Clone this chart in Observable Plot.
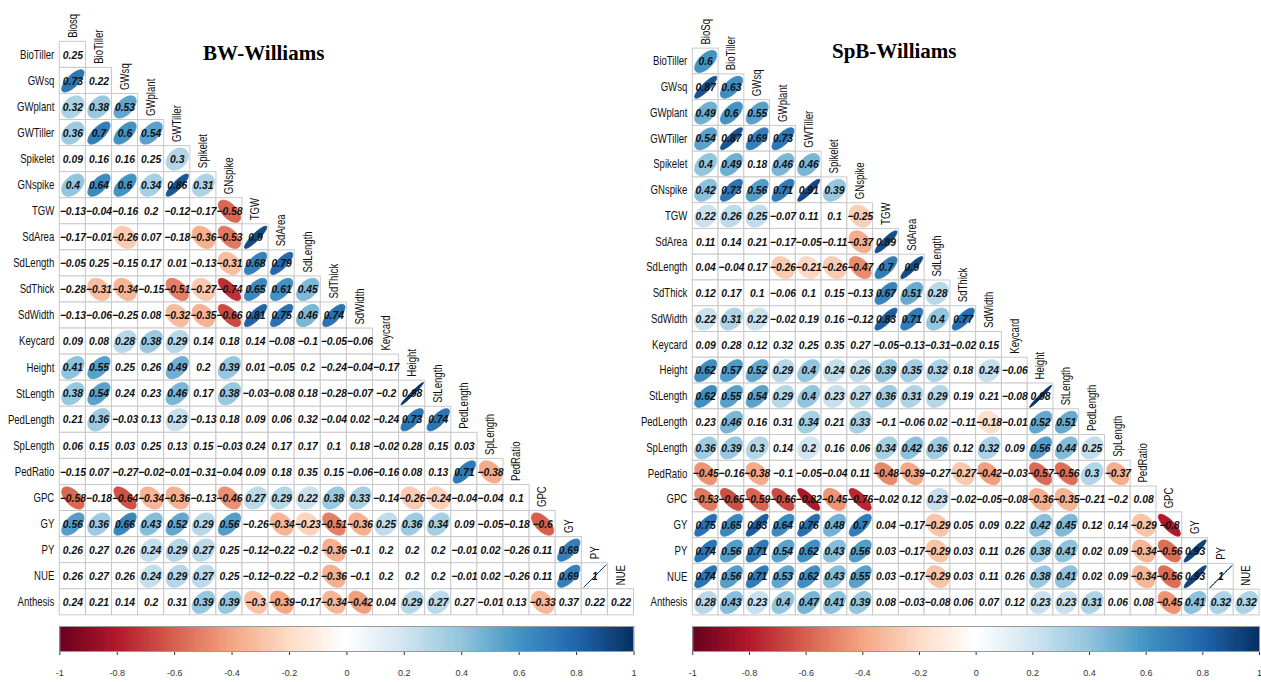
<!DOCTYPE html>
<html><head><meta charset="utf-8">
<script src="https://cdn.jsdelivr.net/npm/d3@7"></script>
<script src="https://cdn.jsdelivr.net/npm/@observablehq/plot@0.6"></script>
<style>
body{margin:0;background:#fff;}
#wrap{position:relative;width:1261px;height:682px;overflow:hidden;background:#fff;}
.title{position:absolute;z-index:3;font-family:"Liberation Serif","Times New Roman",serif;font-weight:bold;font-size:21px;line-height:1;color:#000;white-space:nowrap;}
#wrap svg{position:absolute;overflow:hidden;}
</style></head>
<body><div id="wrap">
<div class="title" style="left:203px;top:43px">BW-Williams</div>
<div class="title" style="left:832px;top:41px">SpB-Williams</div>
</div>
<script>
// ---------- data ----------
const bwVars = ["Biosq","BioTiller","GWsq","GWplant","GWTiller","Spikelet","GNspike","TGW","SdArea","SdLength","SdThick","SdWidth","Keycard","Height","StLength","PedLength","SpLength","PedRatio","GPC","GY","PY","NUE","Anthesis"];
const spbVars = ["BioSq","BioTiller","GWsq","GWplant","GWTiller","Spikelet","GNspike","TGW","SdArea","SdLength","SdThick","SdWidth","Keycard","Height","StLength","PedLength","SpLength","PedRatio","GPC","GY","PY","NUE","Anthesis"];

const bwValues = [
  [0.25],
  [0.73,0.22],
  [0.32,0.38,0.53],
  [0.36,0.7,0.6,0.54],
  [0.09,0.16,0.16,0.25,0.3],
  [0.4,0.64,0.6,0.34,0.86,0.31],
  [-0.13,-0.04,-0.16,0.2,-0.12,-0.17,-0.58],
  [-0.17,-0.01,-0.26,0.07,-0.18,-0.36,-0.53,0.9],
  [-0.05,0.25,-0.15,0.17,0.01,-0.13,-0.31,0.68,0.79],
  [-0.28,-0.31,-0.34,-0.15,-0.51,-0.27,-0.74,0.65,0.61,0.45],
  [-0.13,-0.06,-0.25,0.08,-0.32,-0.35,-0.66,0.81,0.75,0.46,0.74],
  [0.09,0.08,0.28,0.38,0.29,0.14,0.18,0.14,-0.08,-0.1,-0.05,-0.06],
  [0.41,0.55,0.25,0.26,0.49,0.2,0.39,0.01,-0.05,0.2,-0.24,-0.04,-0.17],
  [0.38,0.54,0.24,0.23,0.46,0.17,0.38,-0.03,-0.08,0.18,-0.28,-0.07,-0.2,0.98],
  [0.21,0.36,-0.03,0.13,0.23,-0.13,0.18,0.09,0.06,0.32,-0.04,0.02,-0.24,0.73,0.74],
  [0.06,0.15,0.03,0.25,0.13,0.15,-0.03,0.24,0.17,0.17,0.1,0.18,-0.02,0.28,0.15,0.03],
  [-0.15,0.07,-0.27,-0.02,-0.01,-0.31,-0.04,0.09,0.18,0.35,0.15,-0.06,-0.16,0.08,0.13,0.71,-0.38],
  [-0.58,-0.18,-0.64,-0.34,-0.36,-0.13,-0.46,0.27,0.29,0.22,0.38,0.33,-0.14,-0.26,-0.24,-0.04,-0.04,0.1],
  [0.56,0.36,0.66,0.43,0.52,0.29,0.56,-0.26,-0.34,-0.23,-0.51,-0.36,0.25,0.36,0.34,0.09,-0.05,-0.18,-0.6],
  [0.26,0.27,0.26,0.24,0.29,0.27,0.25,-0.12,-0.22,-0.2,-0.36,-0.1,0.2,0.2,0.2,-0.01,0.02,-0.26,0.11,0.69],
  [0.26,0.27,0.26,0.24,0.29,0.27,0.25,-0.12,-0.22,-0.2,-0.36,-0.1,0.2,0.2,0.2,-0.01,0.02,-0.26,0.11,0.69,1],
  [0.24,0.21,0.14,0.2,0.31,0.39,0.39,-0.3,-0.39,-0.17,-0.34,-0.42,0.04,0.29,0.27,0.27,-0.01,0.13,-0.33,0.37,0.22,0.22]
];
// "1" = significant (drawn with an ellipse)
const bwSig = [
  "0","10","111","1111","00001","111111","0000001","00100111","000000111","0110111111",
  "00001111111","001110000000","1100101000000","11001010000001","010010000000011",
  "0000000000000000","00000000000000011","101110111111011000","1111111011111110001",
  "00011100001000000001","000111000010000000011","0000011110110110001000"
];

const spbValues = [
  [0.6],
  [0.87,0.63],
  [0.49,0.6,0.55],
  [0.54,0.87,0.69,0.73],
  [0.4,0.49,0.18,0.46,0.46],
  [0.42,0.73,0.56,0.71,0.91,0.39],
  [0.22,0.26,0.25,-0.07,0.11,0.1,-0.25],
  [0.11,0.14,0.21,-0.17,-0.05,-0.11,-0.37,0.89],
  [0.04,-0.04,0.17,-0.26,-0.21,-0.26,-0.47,0.7,0.9],
  [0.12,0.17,0.1,-0.06,0.1,0.15,-0.13,0.67,0.51,0.28],
  [0.22,0.31,0.22,-0.02,0.19,0.16,-0.12,0.83,0.71,0.4,0.77],
  [0.09,0.28,0.12,0.32,0.25,0.35,0.27,-0.05,-0.13,-0.31,-0.02,0.15],
  [0.62,0.57,0.52,0.29,0.4,0.24,0.26,0.39,0.35,0.32,0.18,0.24,-0.06],
  [0.62,0.55,0.54,0.29,0.4,0.23,0.27,0.36,0.31,0.29,0.19,0.21,-0.08,0.98],
  [0.23,0.46,0.16,0.31,0.34,0.21,0.33,-0.1,-0.06,0.02,-0.11,-0.18,-0.01,0.52,0.51],
  [0.36,0.39,0.3,0.14,0.2,0.16,0.06,0.34,0.42,0.36,0.12,0.32,0.09,0.56,0.44,0.25],
  [-0.45,-0.16,-0.38,-0.1,-0.05,-0.04,0.11,-0.48,-0.39,-0.27,-0.27,-0.42,-0.03,-0.57,-0.56,0.3,-0.37],
  [-0.53,-0.65,-0.59,-0.66,-0.82,-0.45,-0.76,-0.02,0.12,0.23,-0.02,-0.05,-0.08,-0.36,-0.35,-0.21,-0.2,0.08],
  [0.75,0.65,0.83,0.64,0.76,0.48,0.7,0.04,-0.17,-0.29,0.05,0.09,0.22,0.42,0.45,0.12,0.14,-0.29,-0.8],
  [0.74,0.56,0.71,0.54,0.62,0.43,0.56,0.03,-0.17,-0.29,0.03,0.11,0.26,0.38,0.41,0.02,0.09,-0.34,-0.56,0.93],
  [0.74,0.56,0.71,0.53,0.62,0.43,0.55,0.03,-0.17,-0.29,0.03,0.11,0.26,0.38,0.41,0.02,0.09,-0.34,-0.56,0.93,1],
  [0.28,0.43,0.23,0.4,0.47,0.41,0.39,0.08,-0.03,-0.08,0.06,0.07,0.12,0.23,0.23,0.31,0.06,0.08,-0.45,0.41,0.32,0.32]
];
const spbSig = [
  "1","11","111","1111","11011","111111","1110001","00000011","000111111","0000000111",
  "11100001111","000000000000","1111111111010","11111111110001","010010100001011",
  "1110100111010111","10100001101101111","111111100100011000","1111111001000110011",
  "11111110010001100111","111111100100011001111","1111111000000111001111"
];

const corrStops = [-1,-0.8,-0.6,-0.4,-0.2,0,0.2,0.4,0.6,0.8,1];
const corrColors = ["#67001F","#B2182B","#D6604D","#F4A582","#FDDBC7","#FFFFFF","#D1E5F0","#92C5DE","#4393C3","#2166AC","#053061"];
const legendTicks = [-1,-0.8,-0.6,-0.4,-0.2,0,0.2,0.4,0.6,0.8,1];
const legendSteps = d3.range(-1, 1, 0.01);

// ---------- drawing ----------
const FONT = "'Liberation Sans', Arial, Helvetica, sans-serif";
const colorOpts = {type: "linear", domain: corrStops, range: corrColors, interpolate: "rgb"};
const fmt = v => (v < 0 ? "\u2212" : "") + String(Math.abs(v));

function panel(vars, values, sig, o) {
  const cols = vars.slice(0, -1), rows = vars.slice(1);
  const cells = [];
  values.forEach((row, r) => row.forEach((v, c) => cells.push({r, c, v, sig: sig[r][c] === "1", id: r * 100 + c})));
  const ell = [];
  cells.filter(d => d.sig).forEach(d => {
    const a = Math.acos(Math.max(-1, Math.min(1, d.v))) / 2;
    for (let j = 0; j <= 72; j++) {
      const k = 2 * Math.PI * j / 72;
      ell.push({id: d.id, v: d.v, x: d.c + 0.85 * Math.cos(k + a) / 2, y: d.r - 0.85 * Math.cos(k - a) / 2});
    }
  });
  return Plot.plot({
    width: o.width, height: o.height,
    marginLeft: o.ml, marginRight: o.mr, marginTop: o.mt, marginBottom: o.mb,
    x: {domain: [-0.5, cols.length - 0.5], axis: null},
    y: {domain: [-0.5, rows.length - 0.5], reverse: true, axis: null},
    color: colorOpts,
    style: {fontFamily: FONT, background: "transparent", overflow: "hidden"},
    marks: [
      Plot.rect(cells, {x1: d => d.c - 0.5, x2: d => d.c + 0.5, y1: d => d.r - 0.5, y2: d => d.r + 0.5, fill: "white", stroke: "#c9c9c9", strokeWidth: 1}),
      Plot.line(ell, {x: "x", y: "y", z: "id", fill: "v", stroke: "v", strokeWidth: 1}),
      Plot.text(cells, {x: "c", y: "r", text: d => fmt(d.v), fontSize: 11.5, fontWeight: "bold", fontStyle: "italic", fill: "#111"}),
      Plot.text(rows, {x: () => -0.5, y: (d, i) => i, text: d => d, textAnchor: "end", dx: -5.5, fontSize: 12, fill: "#111"}),
      Plot.text(cols, {x: (d, i) => i, y: (d, i) => i - 0.5, text: d => d, rotate: -90, textAnchor: "start", dy: -4, fontSize: 12, fill: "#111"})
    ]
  });
}

// narrow the glyphs along the text direction, as in the reference
function condenseGroup(g, k) {
  if (!g) return;
  g.querySelectorAll("text").forEach(t => {
    let tr = t.getAttribute("transform");
    if (!tr) {
      const x = +t.getAttribute("x") || 0, y = +t.getAttribute("y") || 0;
      t.removeAttribute("x"); t.removeAttribute("y");
      tr = `translate(${x},${y})`;
    }
    t.setAttribute("transform", tr + ` scale(${k},1)`);
  });
}
function styled(svg) {
  const groups = svg.querySelectorAll('g[aria-label="text"]');
  condenseGroup(groups[0], 0.9);   // numbers
  condenseGroup(groups[1], 0.8);   // row labels
  condenseGroup(groups[2], 0.8);   // column labels
  return svg;
}

function colorbar(o) {
  return Plot.plot({
    width: o.width, height: 64,
    marginLeft: o.ml, marginRight: o.mr, marginTop: 8, marginBottom: 31,
    x: {domain: [-1, 1], ticks: legendTicks, tickSize: 4, tickPadding: 14, label: null,
        tickFormat: d => String(+d.toFixed(1))},
    color: colorOpts,
    style: {fontFamily: FONT, fontSize: "9px", color: "#333", background: "transparent"},
    marks: [
      Plot.rect(legendSteps, {x1: d => d, x2: d => Math.min(1, d + 0.0125), fill: d => d + 0.005}),
      Plot.frame({stroke: "#9a9a9a"})
    ]
  });
}

const wrap = document.getElementById("wrap");
function place(el, left, top) { el.style.left = left + "px"; el.style.top = top + "px"; wrap.insertBefore(el, wrap.firstChild); }

place(styled(panel(bwVars, bwValues, bwSig, {width: 636, height: 618, ml: 59.3, mr: 2.5, mt: 41.3, mb: 3.2})), 0, 0);
place(styled(panel(spbVars, spbValues, spbSig, {width: 625, height: 618, ml: 56.3, mr: 2, mt: 48.1, mb: 3.1})), 636, 0);
place(colorbar({width: 636, ml: 59.3, mr: 2.5}), 0, 618);
place(colorbar({width: 625, ml: 56.3, mr: 2}), 636, 618);
</script></body></html>
